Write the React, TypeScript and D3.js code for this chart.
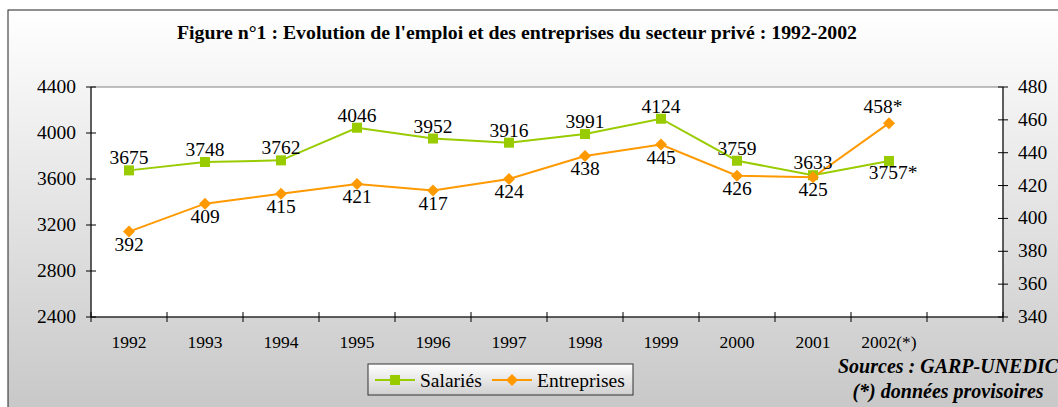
import React from "react";
import * as d3 from "d3";

const years = ["1992", "1993", "1994", "1995", "1996", "1997", "1998", "1999", "2000", "2001", "2002(*)"];
const salaries = [3675, 3748, 3762, 4046, 3952, 3916, 3991, 4124, 3759, 3633, 3757];
const entreprises = [392, 409, 415, 421, 417, 424, 438, 445, 426, 425, 458];
const salLabels = ["3675", "3748", "3762", "4046", "3952", "3916", "3991", "4124", "3759", "3633", "3757*"];
const entLabels = ["392", "409", "415", "421", "417", "424", "438", "445", "426", "425", "458*"];
const leftTicks = [2400, 2800, 3200, 3600, 4000, 4400];
const rightTicks = [340, 360, 380, 400, 420, 440, 460, 480];

const W = 1058;
const H = 407;
const FONT = "Liberation Serif";
const GREEN = "#99cc00";
const ORANGE = "#ff9900";

export default function App() {
  const left = 91, right = 1003, top = 87, bottom = 317;
  const x = d3.scaleBand<string>().domain([...years, ""]).range([left, right]).padding(0);
  const yL = d3.scaleLinear().domain([2400, 4400]).range([bottom, top]);
  const yR = d3.scaleLinear().domain([340, 480]).range([bottom, top]);
  const cx = (i: number) => (x(years[i]) as number) + x.bandwidth() / 2;

  const salLine = d3.line<number>().x((_, i) => cx(i)).y((d) => yL(d))(salaries) as string;
  const entLine = d3.line<number>().x((_, i) => cx(i)).y((d) => yR(d))(entreprises) as string;
  const boundaries = [...years, ""].map((c) => x(c) as number).concat([right]);
  const last = years.length - 1;
  const ts = (size: number) => ({ fontFamily: FONT, fontSize: size + "px" });

  return (
    <svg width={W} height={H} style={{ position: "absolute", left: 0, top: 0, display: "block" }}>
      <defs>
        <linearGradient id="bg" x1="0" y1="0" x2="0" y2="1">
          <stop offset="0" stopColor="#ffffff" />
          <stop offset="1" stopColor="#c4c4c4" />
        </linearGradient>
        <linearGradient id="lg" x1="0" y1="0" x2="0" y2="1">
          <stop offset="0" stopColor="#ffffff" />
          <stop offset="1" stopColor="#d0d0d0" />
        </linearGradient>
      </defs>
      <rect x={0} y={0} width={W} height={H} fill="#ffffff" />
      <rect x={8} y={10} width={W + 20} height={H + 20} fill="url(#bg)" stroke="#222" strokeWidth={1} />
      <text x={177} y={39} textLength={680} lengthAdjust="spacingAndGlyphs" style={ts(18.5)} fontWeight="bold" fill="#000">
        Figure n°1 : Evolution de l'emploi et des entreprises du secteur privé : 1992-2002
      </text>

      <rect x={left} y={top} width={right - left} height={bottom - top} fill="#ffffff" stroke="#808080" strokeWidth={1} />
      <line x1={left} y1={top} x2={left} y2={bottom} stroke="#000" />
      <line x1={right} y1={top} x2={right} y2={bottom} stroke="#000" />
      <line x1={left} y1={bottom} x2={right} y2={bottom} stroke="#000" />

      {leftTicks.map((t) => (
        <g key={"l" + t}>
          <line x1={left - 5} x2={left + 5} y1={yL(t)} y2={yL(t)} stroke="#000" />
          <text x={left - 15} y={yL(t) + 6} textAnchor="end" style={ts(19.5)} fill="#000">{t}</text>
        </g>
      ))}
      {rightTicks.map((t) => (
        <g key={"r" + t}>
          <line x1={right - 5} x2={right + 5} y1={yR(t)} y2={yR(t)} stroke="#000" />
          <text x={right + 15} y={yR(t) + 6} textAnchor="start" style={ts(19.5)} fill="#000">{t}</text>
        </g>
      ))}
      {boundaries.map((b, i) => (
        <line key={"b" + i} x1={b} x2={b} y1={bottom - 5} y2={bottom + 5} stroke="#000" />
      ))}
      {years.map((c, i) => (
        <text key={"x" + c} x={cx(i)} y={348} textAnchor="middle" style={ts(17.5)} fill="#000">{c}</text>
      ))}

      <path d={salLine} fill="none" stroke={GREEN} strokeWidth={2} />
      <path d={entLine} fill="none" stroke={ORANGE} strokeWidth={2} />
      {salaries.map((v, i) => (
        <rect key={"s" + i} x={cx(i) - 5} y={yL(v) - 5} width={10} height={10} fill={GREEN} />
      ))}
      {entreprises.map((v, i) => (
        <path key={"e" + i} d={`M${cx(i)},${yR(v) - 6}L${cx(i) + 6},${yR(v)}L${cx(i)},${yR(v) + 6}L${cx(i) - 6},${yR(v)}Z`} fill={ORANGE} />
      ))}
      {salaries.map((v, i) => (
        <text key={"sl" + i} x={cx(i) + (i === last ? 4 : 0)} y={yL(v) + (i === last ? 18 : -6)} textAnchor="middle" style={ts(19.5)} fill="#000">{salLabels[i]}</text>
      ))}
      {entreprises.map((v, i) => (
        <text key={"el" + i} x={cx(i) - (i === last ? 6 : 0)} y={yR(v) + (i === last ? -10 : 19)} textAnchor="middle" style={ts(19.5)} fill="#000">{entLabels[i]}</text>
      ))}

      <rect x={368} y={364} width={265} height={31} fill="url(#lg)" stroke="#333" strokeWidth={1} />
      <line x1={375} x2={415} y1={380} y2={380} stroke={GREEN} strokeWidth={2} />
      <rect x={390} y={375} width={10} height={10} fill={GREEN} />
      <text x={420} y={387} style={ts(19.5)} fill="#000">Salariés</text>
      <line x1={492} x2={532} y1={380} y2={380} stroke={ORANGE} strokeWidth={2} />
      <path d="M512,374L518,380L512,386L506,380Z" fill={ORANGE} />
      <text x={537} y={387} style={ts(19.5)} fill="#000">Entreprises</text>

      <text x={948} y={373} textAnchor="middle" style={ts(20)} fontWeight="bold" fontStyle="italic" fill="#000">Sources : GARP-UNEDIC</text>
      <text x={948} y={398} textAnchor="middle" style={ts(20)} fontWeight="bold" fontStyle="italic" fill="#000">(*) données provisoires</text>
    </svg>
  );
}
